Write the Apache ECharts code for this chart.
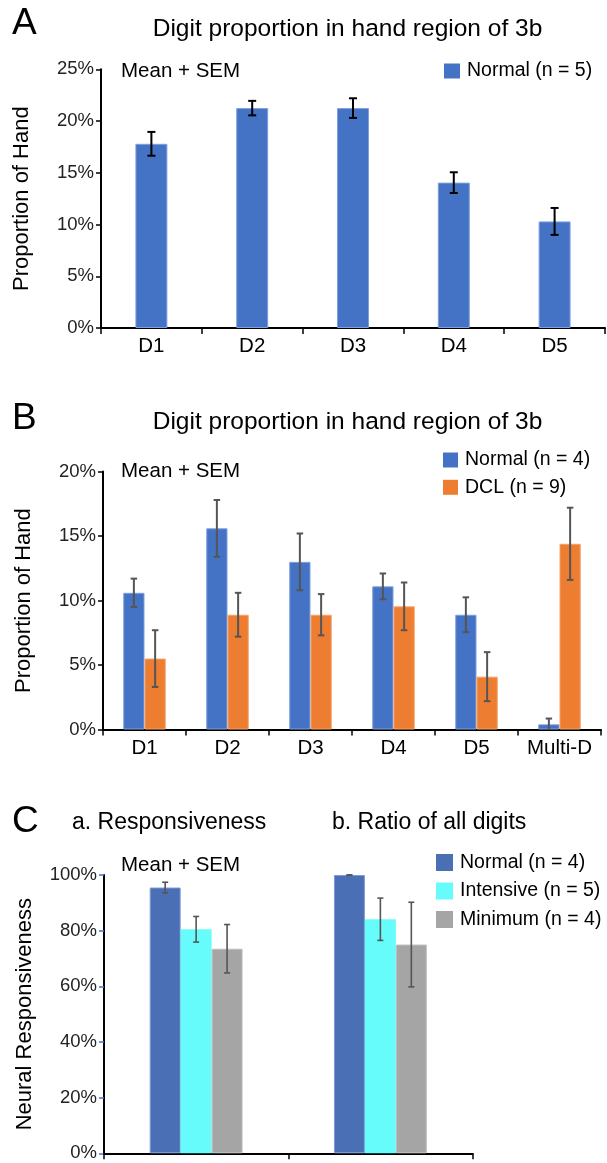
<!DOCTYPE html>
<html>
<head>
<meta charset="utf-8">
<script src="https://cdn.jsdelivr.net/npm/echarts@6/dist/echarts.min.js"></script>
<style>
  html, body { margin: 0; padding: 0; background: #fff; }
  #chart { width: 607px; height: 1163px; }
</style>
</head>
<body>
<div id="chart"></div>
<script>
// Panel A: digit proportion, normal group
const catsA = ['D1', 'D2', 'D3', 'D4', 'D5'];
const normalA = [17.8, 21.25, 21.25, 14.05, 10.3];
const semNormalA = [1.15, 0.7, 0.95, 1.0, 1.3];

// Panel B: digit proportion, normal vs DCL
const catsB = ['D1', 'D2', 'D3', 'D4', 'D5', 'Multi-D'];
const normalB = [10.6, 15.6, 13.0, 11.1, 8.9, 0.4];
const semNormalB = [1.1, 2.2, 2.2, 1.0, 1.35, 0.45];
const dclB = [5.5, 8.9, 8.9, 9.55, 4.1, 14.4];
const semDclB = [2.2, 1.7, 1.6, 1.85, 1.9, 2.8];

// Panel C: responsiveness and ratio of all digits
const catsC = ['a. Responsiveness', 'b. Ratio of all digits'];
const normalC = [95.5, 100];
const semNormalC = [1.9, 0];
const intensiveC = [80.5, 84.1];
const semIntensiveC = [4.6, 7.6];
const minimumC = [73.5, 75];
const semMinimumC = [8.7, 15.2];

// Tick values
const ticksA = [0, 5, 10, 15, 20, 25];
const ticksB = [0, 5, 10, 15, 20];
const ticksC = [0, 20, 40, 60, 80, 100];

const FONT = '"Liberation Sans", Arial, Helvetica, sans-serif';
const INK = '#000';

const seriesNames = {
  normalA: 'Normal (n = 5)',
  normalB: 'Normal (n = 4)',
  dclB: 'DCL (n = 9)',
  normalC: 'Normal (n = 4)',
  intensiveC: 'Intensive (n = 5)',
  minimumC: 'Minimum (n = 4)'
};

const colors = {
  blue: '#4472C4',
  blueC: '#4A6FB5',
  orange: '#ED7D31',
  cyan: '#66FCFC',
  gray: '#A5A5A5'
};

// Builds [categoryIndex, mean, sem] rows for an error-bar series
function errRows(means, sems) {
  return means.map((m, i) => [i, m, sems[i]]);
}

// Draws a vertical mean ± SEM whisker with caps, shifted to the bar's slot in its group
function errorBar(nSeries, idx, barFrac, color, lineW, capW) {
  return function (params, api) {
    const ci = api.value(0);
    const mean = api.value(1);
    const sem = api.value(2);
    const band = api.size([1, 0])[0];
    const off = (idx - (nSeries - 1) / 2) * barFrac * band;
    const top = api.coord([ci, mean + sem]);
    const bot = api.coord([ci, Math.max(0, mean - sem)]);
    const x = top[0] + off;
    const st = { stroke: color, lineWidth: lineW };
    const kids = [
      { type: 'line', shape: { x1: x, y1: top[1], x2: x, y2: bot[1] }, style: st },
      { type: 'line', shape: { x1: x - capW / 2, y1: top[1], x2: x + capW / 2, y2: top[1] }, style: st }
    ];
    if (mean - sem > 0) {
      kids.push({ type: 'line', shape: { x1: x - capW / 2, y1: bot[1], x2: x + capW / 2, y2: bot[1] }, style: st });
    }
    return { type: 'group', children: kids };
  };
}

function yAxisFor(gridIndex, max, interval, name, tickColor) {
  return {
    type: 'value', gridIndex, min: 0, max, interval,
    name, nameLocation: 'middle', nameRotate: 90, nameGap: 68,
    nameTextStyle: { fontSize: 22, fontFamily: FONT, color: INK },
    axisLine: { show: true, lineStyle: { color: INK, width: 2 } },
    axisTick: { show: true, length: 5, lineStyle: { color: tickColor || INK, width: 1.5 } },
    axisLabel: { formatter: '{value}%', fontSize: 18.5, fontFamily: FONT, color: '#222', margin: 7 },
    splitLine: { show: false }
  };
}

function xAxisFor(gridIndex, data, showLabels) {
  return {
    type: 'category', gridIndex, data,
    axisLine: { show: true, lineStyle: { color: INK, width: 2 } },
    axisTick: { show: true, length: 6, alignWithLabel: false, interval: 0, lineStyle: { color: INK, width: 1.5 } },
    axisLabel: { show: showLabels, interval: 0, fontSize: 20.5, fontFamily: FONT, color: INK, margin: 8 },
    splitLine: { show: false }
  };
}

function txt(text, x, y, size, align) {
  return {
    type: 'text', x, y, silent: true,
    style: {
      text, fill: INK, fontSize: size, fontFamily: FONT,
      align: align || 'left', verticalAlign: 'middle',
      textAlign: align || 'left', textVerticalAlign: 'middle'
    }
  };
}

function legendFor(left, top, items, boxW, boxH, gap) {
  return {
    orient: 'vertical', left, top, icon: 'rect', padding: 0,
    itemWidth: boxW, itemHeight: boxH, itemGap: gap, selectedMode: false,
    textStyle: { fontSize: 19.5, fontFamily: FONT, color: INK, lineHeight: 20, padding: [0, 0, 0, 2] },
    data: items.map(it => ({ name: it[0], itemStyle: { color: it[1], borderWidth: 0 } }))
  };
}

const option = {
  backgroundColor: '#fff',
  animation: false,
  grid: [
    { left: 101, top: 69.3, width: 504, height: 258.7 },
    { left: 103, top: 471.6, width: 498, height: 257.9 },
    { left: 104, top: 875, width: 368.5, height: 278.3 }
  ],
  xAxis: [
    xAxisFor(0, catsA, true),
    xAxisFor(1, catsB, true),
    xAxisFor(2, catsC, false)
  ],
  yAxis: [
    yAxisFor(0, ticksA[ticksA.length - 1], ticksA[1] - ticksA[0], 'Proportion of Hand'),
    yAxisFor(1, ticksB[ticksB.length - 1], ticksB[1] - ticksB[0], 'Proportion of Hand'),
    yAxisFor(2, ticksC[ticksC.length - 1], ticksC[1] - ticksC[0], 'Neural Responsiveness', '#4472C4')
  ],
  legend: [
    legendFor(444, 61, [[seriesNames.normalA, colors.blue]], 16, 15, 8),
    legendFor(443, 450, [[seriesNames.normalB, colors.blue], [seriesNames.dclB, colors.orange]], 15, 15, 7.3),
    legendFor(436, 852.5, [[seriesNames.normalC, colors.blueC], [seriesNames.intensiveC, colors.cyan], [seriesNames.minimumC, colors.gray]], 17, 17, 8.5)
  ],
  graphic: [
    txt('A', 12, 24, 37),
    txt('Digit proportion in hand region of 3b', 347.5, 29, 24.5, 'center'),
    txt('Mean + SEM', 121, 71, 20.5),
    txt('B', 12, 419, 37),
    txt('Digit proportion in hand region of 3b', 347.5, 422, 24.5, 'center'),
    txt('Mean + SEM', 121, 471, 20.5),
    txt('C', 12, 822, 37),
    txt('a. Responsiveness', 72, 823, 23),
    txt('b. Ratio of all digits', 332, 823, 23),
    txt('Mean + SEM', 121, 865, 20.5)
  ],
  series: [
    // Panel A
    {
      type: 'bar', name: seriesNames.normalA, xAxisIndex: 0, yAxisIndex: 0,
      data: normalA, barWidth: '31.7%',
      itemStyle: { color: colors.blue, borderColor: '#7E9FDC', borderWidth: 1 }
    },
    {
      type: 'custom', xAxisIndex: 0, yAxisIndex: 0, z: 10,
      renderItem: errorBar(1, 0, 0.317, '#000', 2, 8),
      data: errRows(normalA, semNormalA), encode: { x: 0, y: 1 }
    },
    // Panel B
    {
      type: 'bar', name: seriesNames.normalB, xAxisIndex: 1, yAxisIndex: 1,
      data: normalB, barWidth: '25.6%', barGap: '0%',
      itemStyle: { color: colors.blue, borderColor: '#7E9FDC', borderWidth: 1 }
    },
    {
      type: 'bar', name: seriesNames.dclB, xAxisIndex: 1, yAxisIndex: 1,
      data: dclB, barWidth: '25.6%', barGap: '0%',
      itemStyle: { color: colors.orange, borderColor: '#F4A26A', borderWidth: 1 }
    },
    {
      type: 'custom', xAxisIndex: 1, yAxisIndex: 1, z: 10,
      renderItem: errorBar(2, 0, 0.256, '#555', 2, 6.5),
      data: errRows(normalB, semNormalB), encode: { x: 0, y: 1 }
    },
    {
      type: 'custom', xAxisIndex: 1, yAxisIndex: 1, z: 10,
      renderItem: errorBar(2, 1, 0.256, '#555', 2, 6.5),
      data: errRows(dclB, semDclB), encode: { x: 0, y: 1 }
    },
    // Panel C
    {
      type: 'bar', name: seriesNames.normalC, xAxisIndex: 2, yAxisIndex: 2,
      data: normalC, barWidth: '16.8%', barGap: '0%',
      itemStyle: { color: colors.blueC, borderColor: '#7D9BD6', borderWidth: 1 }
    },
    {
      type: 'bar', name: seriesNames.intensiveC, xAxisIndex: 2, yAxisIndex: 2,
      data: intensiveC, barWidth: '16.8%', barGap: '0%',
      itemStyle: { color: colors.cyan }
    },
    {
      type: 'bar', name: seriesNames.minimumC, xAxisIndex: 2, yAxisIndex: 2,
      data: minimumC, barWidth: '16.8%', barGap: '0%',
      itemStyle: { color: colors.gray, borderColor: '#BDBDBD', borderWidth: 1 }
    },
    {
      type: 'custom', xAxisIndex: 2, yAxisIndex: 2, z: 10,
      renderItem: errorBar(3, 0, 0.168, '#555', 1.6, 6),
      data: errRows(normalC, semNormalC), encode: { x: 0, y: 1 }
    },
    {
      type: 'custom', xAxisIndex: 2, yAxisIndex: 2, z: 10,
      renderItem: errorBar(3, 1, 0.168, '#555', 1.6, 6),
      data: errRows(intensiveC, semIntensiveC), encode: { x: 0, y: 1 }
    },
    {
      type: 'custom', xAxisIndex: 2, yAxisIndex: 2, z: 10,
      renderItem: errorBar(3, 2, 0.168, '#555', 1.6, 6),
      data: errRows(minimumC, semMinimumC), encode: { x: 0, y: 1 }
    }
  ]
};

const chart = echarts.init(document.getElementById('chart'), null, { renderer: 'canvas' });
chart.setOption(option);
</script>
</body>
</html>
